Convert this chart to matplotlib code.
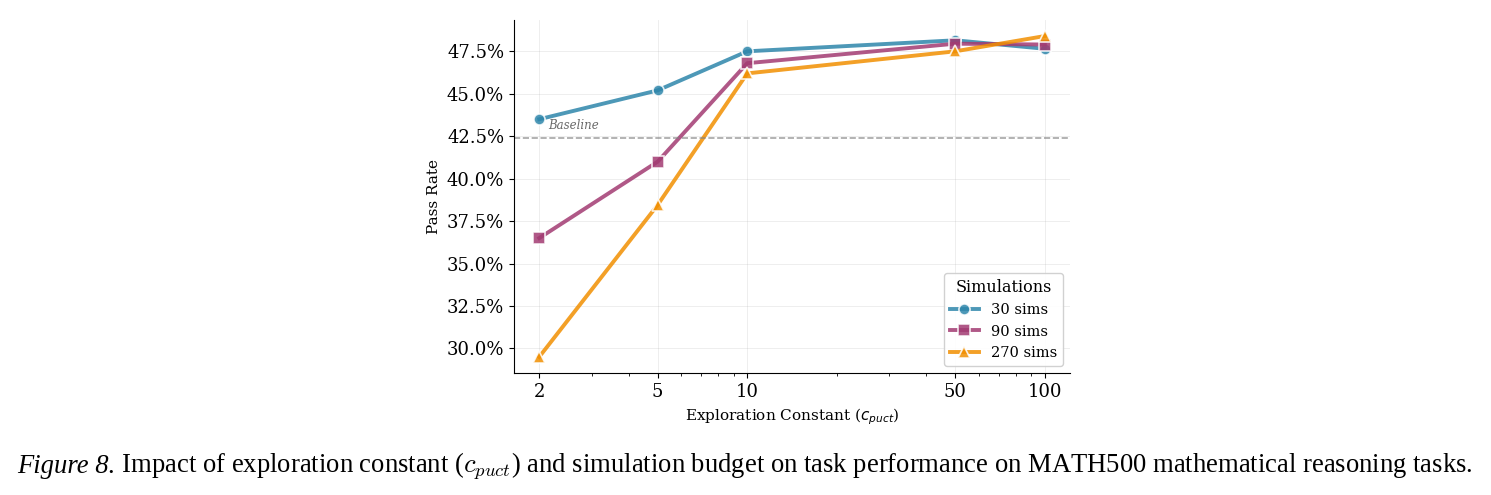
import matplotlib
matplotlib.use('Agg')
import matplotlib.pyplot as plt
from matplotlib.ticker import FuncFormatter, NullFormatter

# exploration constants and pass rates (%) per simulation budget
c_puct = [2, 5, 10, 50, 100]
sims_labels = ["30 sims", "90 sims", "270 sims"]
pass_30 = [43.5, 45.2, 47.5, 48.15, 47.65]
pass_90 = [36.5, 41.0, 46.8, 47.95, 47.9]
pass_270 = [29.5, 38.45, 46.2, 47.5, 48.4]
baseline = 42.4

colors = ['#2E86AB', '#A23B72', '#F18F01']
markers = ['o', 's', '^']

plt.rcParams['font.family'] = ['DejaVu Serif']

fig = plt.figure(figsize=(14.91, 4.95), dpi=100)
ax = fig.add_axes([0.3447, 0.2465, 0.373, 0.7131])

for vals, lab, col, mk in zip([pass_30, pass_90, pass_270], sims_labels, colors, markers):
    ax.plot(c_puct, vals, color=col, marker=mk, label=lab, linewidth=2.8,
            markersize=8, markeredgecolor='white', markeredgewidth=1.2, alpha=0.85)

ax.axhline(baseline, color='gray', linestyle='--', linewidth=1.2, alpha=0.7)
ax.text(2.15, baseline + 0.35, 'Baseline', fontsize=8.5, style='italic',
        color='dimgray', va='bottom')

ax.set_xscale('log')
ax.set_xticks(c_puct)
ax.xaxis.set_major_formatter(FuncFormatter(lambda v, p: f"{v:g}"))
ax.xaxis.set_minor_formatter(NullFormatter())
ax.yaxis.set_major_formatter(FuncFormatter(lambda v, p: f"{v:.1f}%"))
ax.tick_params(axis='both', labelsize=13)

ax.set_xlabel(r'Exploration Constant ($c_{puct}$)', fontsize=11)
ax.set_ylabel('Pass Rate', fontsize=11)
ax.grid(True, alpha=0.25, linewidth=0.6)
ax.spines['top'].set_visible(False)
ax.spines['right'].set_visible(False)

leg = ax.legend(title='Simulations', loc='lower right', fontsize=10.5,
                title_fontsize=11.5, framealpha=0.9)

# caption: italic "Figure 8." then roman text on the same baseline
cap_size = 19.2
t1 = fig.text(0.0115, 0.045, 'Figure 8.', family='Liberation Serif',
              style='italic', fontsize=cap_size, va='baseline')
fig.canvas.draw()
bb = t1.get_window_extent(renderer=fig.canvas.get_renderer())
x_next = bb.x1 / fig.bbox.width
fig.text(x_next, 0.045,
         r' Impact of exploration constant ($c_{puct}$) and simulation budget '
         r'on task performance on MATH500 mathematical reasoning tasks.',
         family='Liberation Serif', math_fontfamily='cm', fontsize=cap_size,
         va='baseline')

fig.savefig('out.png', dpi=100)
